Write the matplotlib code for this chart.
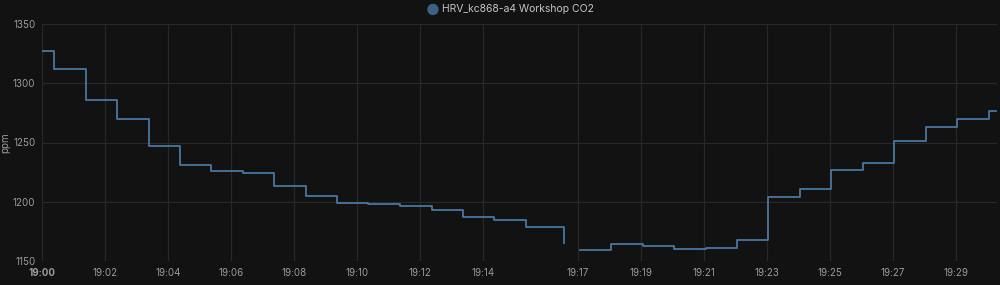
import numpy as np
import matplotlib
matplotlib.use("Agg")
import matplotlib.pyplot as plt

# Data: minutes after 19:00 and CO2 ppm (step 'post'); NaN marks the data gap
minutes = [0.0, 0.37, 1.39, 2.37, 3.39, 4.37, 5.36, 6.36, 7.37, 8.36, 9.37,
           10.35, 11.36, 12.36, 13.35, 14.35, 15.35, 16.55, 16.56,
           17.07, 18.06, 19.06, 20.05, 21.06, 22.04, 23.05, 24.05, 25.05,
           26.05, 27.05, 28.05, 29.04, 30.05, 30.27]
co2_ppm = [1327, 1312, 1286, 1270, 1247, 1231, 1226, 1224, 1213, 1205, 1199,
           1198, 1196, 1193, 1187, 1185, 1179, 1165, np.nan,
           1159, 1164, 1163, 1160, 1161, 1168, 1204, 1211, 1227,
           1233, 1251, 1263, 1270, 1277, 1277]
tick_minutes = [0, 2, 4, 6, 8, 10, 12, 14, 17, 19, 21, 23, 25, 27, 29]
tick_labels = ["19:00", "19:02", "19:04", "19:06", "19:08", "19:10", "19:12",
               "19:14", "19:17", "19:19", "19:21", "19:23", "19:25", "19:27", "19:29"]
y_ticks = [1150, 1200, 1250, 1300, 1350]
series_name = "HRV_kc868-a4 Workshop CO2"

plt.rcParams['font.family'] = ['Inter', 'DejaVu Sans']
bg = "#121212"
text_c = "#9b9b9b"
grid_c = "#282828"
line_c = "#4a76a0"

fig = plt.figure(figsize=(10, 2.85), dpi=100, facecolor=bg)
ax = fig.add_axes([0.0423, 0.0842, 0.9547, 0.8316], facecolor=bg)

ax.step(minutes, co2_ppm, where='post', color=line_c, lw=1.3)

ax.set_xlim(0, 30.31)
ax.set_ylim(1150, 1350)
ax.set_yticks(y_ticks)
ax.set_xticks(tick_minutes)
ax.set_xticklabels(tick_labels)
ax.get_xticklabels()[0].set_fontweight('bold')
ax.grid(True, color=grid_c, lw=0.9)
ax.set_axisbelow(True)
for s in ax.spines.values():
    s.set_visible(False)
ax.tick_params(axis='both', length=0, colors=text_c, labelsize=7)
ax.tick_params(axis='x', pad=5)
ax.tick_params(axis='y', pad=5)
ax.set_ylabel("ppm", color=text_c, fontsize=7, labelpad=4)
ax.yaxis.set_label_coords(-0.034, 0.5)

# legend at top
fig.text(0.433, 0.965, "\u25CF", color="#3b6286", fontsize=11, ha='center', va='center')
fig.text(0.442, 0.968, series_name, color="#c4c4c4", fontsize=7.5, ha='left', va='center')

fig.savefig("out.png", facecolor=bg)
